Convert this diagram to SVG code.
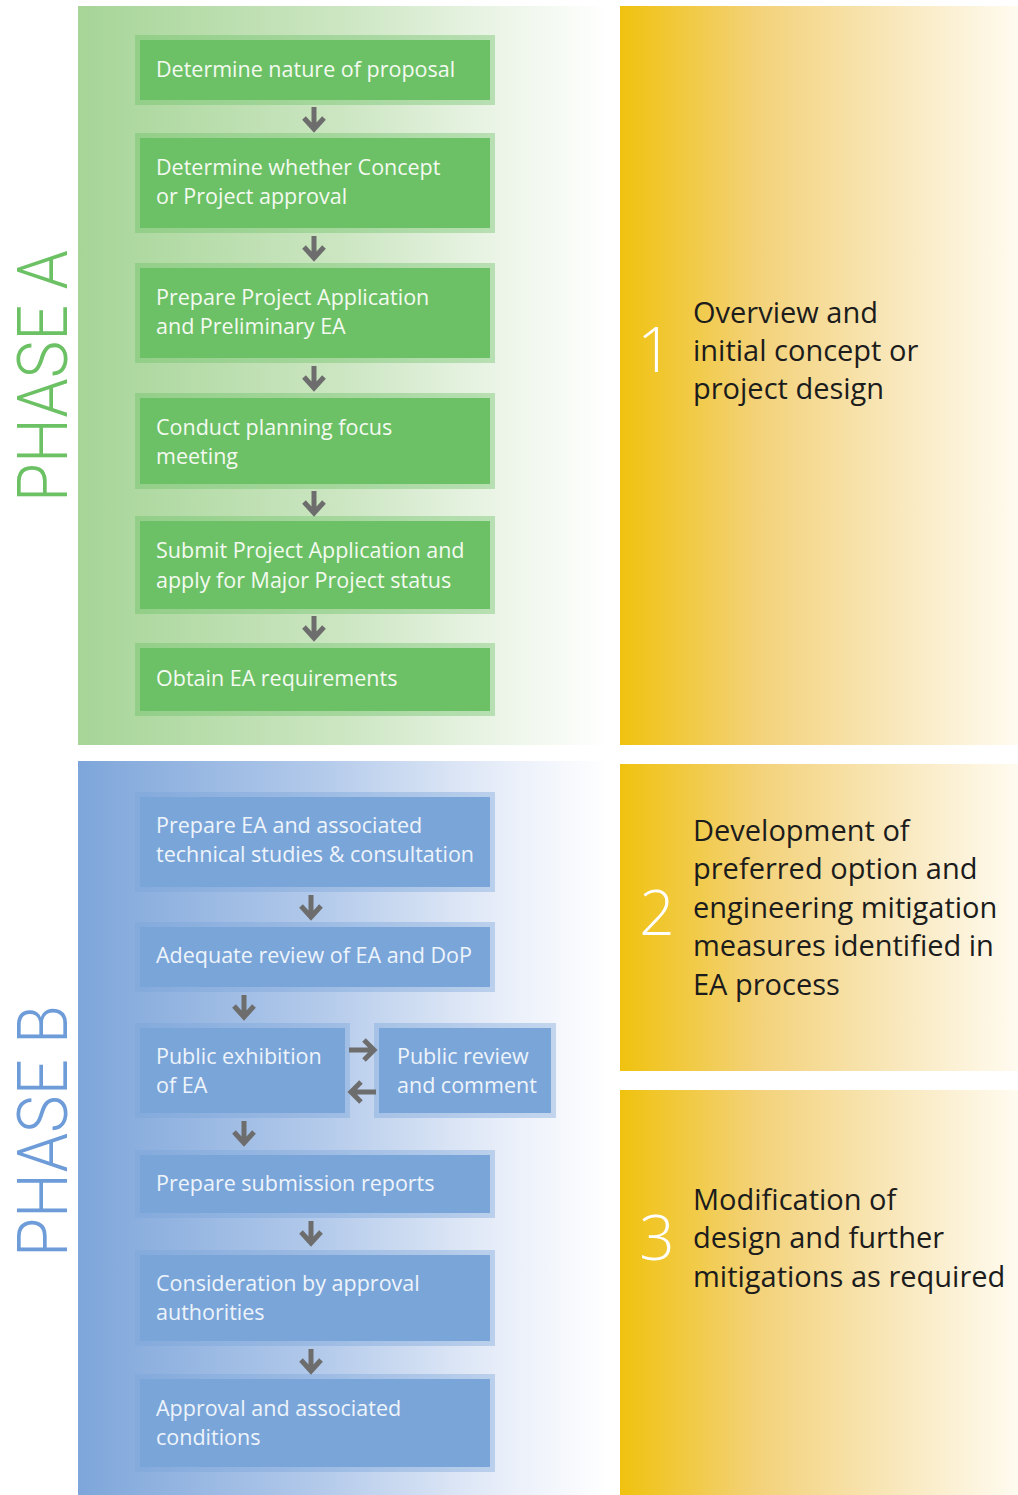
<svg xmlns="http://www.w3.org/2000/svg" xmlns:xlink="http://www.w3.org/1999/xlink" width="1018" height="1495" viewBox="0 0 1018 1495">
  <defs>
    <linearGradient id="gGreen" x1="0" y1="0" x2="1" y2="0">
      <stop offset="0" stop-color="#a6d597"/>
      <stop offset="0.5" stop-color="#cce6c2"/>
      <stop offset="0.8" stop-color="#ecf5e8"/>
      <stop offset="1" stop-color="#ffffff"/>
    </linearGradient>
    <linearGradient id="gBlue" x1="0" y1="0" x2="1" y2="0">
      <stop offset="0" stop-color="#7ea6da"/>
      <stop offset="0.45" stop-color="#b2c9ea"/>
      <stop offset="0.8" stop-color="#e8eef9"/>
      <stop offset="1" stop-color="#ffffff"/>
    </linearGradient>
    <linearGradient id="gGold" x1="0" y1="0" x2="1" y2="0">
      <stop offset="0" stop-color="#f0c20f"/>
      <stop offset="0.35" stop-color="#f3d27a"/>
      <stop offset="0.7" stop-color="#f9e8bd"/>
      <stop offset="1" stop-color="#fffbf0"/>
    </linearGradient>
    <path id="down" d="M0,0 V22 M-10,11 L0,22 L10,11"/>
  </defs>
  <style>
    .boxText { font-family: "Open Sans", "Liberation Sans", sans-serif; font-size: 21.5px; }
    .ga .band { fill: #6cc166; fill-opacity: 0.4; }
    .ga .core { fill: #6cc166; }
    .ga text { fill: #f4faf1; }
    .gb .band { fill: #7aa5d9; fill-opacity: 0.4; }
    .gb .core { fill: #7aa5d9; }
    .gb text { fill: #eef4fb; }
    .arrow { fill: none; stroke: #6d6d6d; stroke-width: 5; }
    .phase { font-family: Roboto, "Open Sans", "Liberation Sans", sans-serif; font-size: 71px; font-weight: 300; }
    .stageNum { font-family: "Open Sans", "Liberation Sans", sans-serif; font-size: 62px; font-weight: 300; fill: #ffffff; text-anchor: middle; }
    .stageText { font-family: "Open Sans", "Liberation Sans", sans-serif; font-size: 29px; fill: #1c1c1c; }
  </style>

  <!-- background panels -->
  <rect x="78" y="6" width="530" height="739" fill="url(#gGreen)"/>
  <rect x="78" y="761" width="530" height="734" fill="url(#gBlue)"/>
  <rect x="620" y="6" width="398" height="739" fill="url(#gGold)"/>
  <rect x="620" y="764" width="398" height="307" fill="url(#gGold)"/>
  <rect x="620" y="1090" width="398" height="405" fill="url(#gGold)"/>

  <!-- phase labels -->
  <text id="phaseA" class="phase" fill="#6cc164" transform="translate(66.5,502) rotate(-90)" textLength="252" lengthAdjust="spacingAndGlyphs">PHASE A</text>
  <text id="phaseB" class="phase" fill="#6d9cd8" transform="translate(66.5,1257) rotate(-90)" textLength="252" lengthAdjust="spacingAndGlyphs">PHASE B</text>

  <!-- Phase A steps -->
  <g id="a1" class="ga">
    <rect class="band" x="135" y="35" width="360" height="70"/>
    <rect class="core" x="140" y="40" width="350" height="60"/>
    <text class="boxText" x="156" y="77">Determine nature of proposal</text>
  </g>
  <g id="a2" class="ga">
    <rect class="band" x="135" y="133" width="360" height="100"/>
    <rect class="core" x="140" y="138" width="350" height="90"/>
    <text class="boxText" x="156" y="175">Determine whether Concept</text>
    <text class="boxText" x="156" y="204">or Project approval</text>
  </g>
  <g id="a3" class="ga">
    <rect class="band" x="135" y="263" width="360" height="100"/>
    <rect class="core" x="140" y="268" width="350" height="90"/>
    <text class="boxText" x="156" y="305">Prepare Project Application</text>
    <text class="boxText" x="156" y="334">and Preliminary EA</text>
  </g>
  <g id="a4" class="ga">
    <rect class="band" x="135" y="393" width="360" height="96"/>
    <rect class="core" x="140" y="398" width="350" height="86"/>
    <text class="boxText" x="156" y="435">Conduct planning focus</text>
    <text class="boxText" x="156" y="464">meeting</text>
  </g>
  <g id="a5" class="ga">
    <rect class="band" x="135" y="516" width="360" height="98"/>
    <rect class="core" x="140" y="521" width="350" height="88"/>
    <text class="boxText" x="156" y="558">Submit Project Application and</text>
    <text class="boxText" x="156" y="588">apply for Major Project status</text>
  </g>
  <g id="a6" class="ga">
    <rect class="band" x="135" y="643" width="360" height="73"/>
    <rect class="core" x="140" y="648" width="350" height="63"/>
    <text class="boxText" x="156" y="686">Obtain EA requirements</text>
  </g>

  <!-- Phase B steps -->
  <g id="b1" class="gb">
    <rect class="band" x="135" y="792" width="360" height="100"/>
    <rect class="core" x="140" y="797" width="350" height="90"/>
    <text class="boxText" x="156" y="833">Prepare EA and associated</text>
    <text class="boxText" x="156" y="862">technical studies &amp; consultation</text>
  </g>
  <g id="b2" class="gb">
    <rect class="band" x="135" y="922" width="360" height="70"/>
    <rect class="core" x="140" y="927" width="350" height="60"/>
    <text class="boxText" x="156" y="963">Adequate review of EA and DoP</text>
  </g>
  <g id="b3" class="gb">
    <rect class="band" x="135" y="1023" width="215" height="95"/>
    <rect class="core" x="140" y="1028" width="205" height="85"/>
    <text class="boxText" x="156" y="1064">Public exhibition</text>
    <text class="boxText" x="156" y="1093">of EA</text>
  </g>
  <g id="b4" class="gb">
    <rect class="band" x="374" y="1023" width="182" height="95"/>
    <rect class="core" x="379" y="1028" width="172" height="85"/>
    <text class="boxText" x="397" y="1064">Public review</text>
    <text class="boxText" x="397" y="1093">and comment</text>
  </g>
  <g id="b5" class="gb">
    <rect class="band" x="135" y="1150" width="360" height="68"/>
    <rect class="core" x="140" y="1155" width="350" height="58"/>
    <text class="boxText" x="156" y="1191">Prepare submission reports</text>
  </g>
  <g id="b6" class="gb">
    <rect class="band" x="135" y="1250" width="360" height="96"/>
    <rect class="core" x="140" y="1255" width="350" height="86"/>
    <text class="boxText" x="156" y="1291">Consideration by approval</text>
    <text class="boxText" x="156" y="1320">authorities</text>
  </g>
  <g id="b7" class="gb">
    <rect class="band" x="135" y="1374" width="360" height="98"/>
    <rect class="core" x="140" y="1379" width="350" height="88"/>
    <text class="boxText" x="156" y="1416">Approval and associated</text>
    <text class="boxText" x="156" y="1445">conditions</text>
  </g>

  <!-- connectors -->
  <g id="connectors" class="arrow">
    <use xlink:href="#down" transform="translate(314,107)"/>
    <use xlink:href="#down" transform="translate(314,236)"/>
    <use xlink:href="#down" transform="translate(314,366)"/>
    <use xlink:href="#down" transform="translate(314,491)"/>
    <use xlink:href="#down" transform="translate(314,616)"/>
    <use xlink:href="#down" transform="translate(311,895)"/>
    <use xlink:href="#down" transform="translate(244,995)"/>
    <use xlink:href="#down" transform="translate(244,1121)"/>
    <use xlink:href="#down" transform="translate(311,1221)"/>
    <use xlink:href="#down" transform="translate(311,1349)"/>
    <path d="M349,1050 H374 M364,1040 L374,1050 L364,1060"/>
    <path d="M376,1092 H351 M361,1082 L351,1092 L361,1102"/>
  </g>

  <!-- stages -->
  <g id="stage1">
    <text class="stageNum" x="655" y="372">1</text>
    <text class="stageText" x="693" y="323">Overview and</text>
    <text class="stageText" x="693" y="361">initial concept or</text>
    <text class="stageText" x="693" y="399">project design</text>
  </g>
  <g id="stage2">
    <text class="stageNum" x="657" y="935">2</text>
    <text class="stageText" x="693" y="841">Development of</text>
    <text class="stageText" x="693" y="879">preferred option and</text>
    <text class="stageText" x="693" y="918">engineering mitigation</text>
    <text class="stageText" x="693" y="956">measures identified in</text>
    <text class="stageText" x="693" y="995">EA process</text>
  </g>
  <g id="stage3">
    <text class="stageNum" x="657" y="1260">3</text>
    <text class="stageText" x="693" y="1210">Modification of</text>
    <text class="stageText" x="693" y="1248">design and further</text>
    <text class="stageText" x="693" y="1287">mitigations as required</text>
  </g>
</svg>
